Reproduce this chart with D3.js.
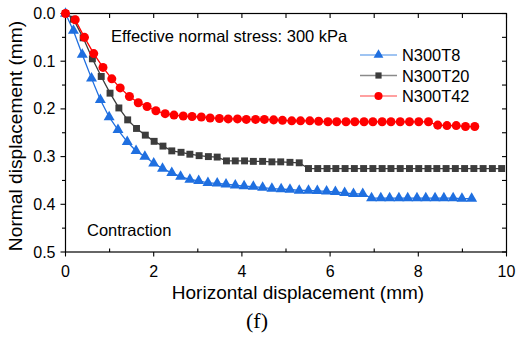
<!DOCTYPE html>
<html><head><meta charset="utf-8">
<script src="https://cdn.jsdelivr.net/npm/d3@7"></script>
<style>body{margin:0;background:#fff}svg{display:block}text{font-family:"Liberation Sans",Arial,sans-serif}</style>
</head><body><div id="c"></div>
<script>
// Data
const seriesNames = ["N300T8", "N300T20", "N300T42"];
const t8X = [0.00,0.18,0.38,0.59,0.79,0.99,1.19,1.40,1.60,1.80,2.00,2.20,2.41,2.61,2.82,3.02,3.23,3.44,3.64,3.85,4.05,4.26,4.47,4.68,4.89,5.09,5.30,5.51,5.71,5.92,6.12,6.33,6.53,6.74,6.94,7.15,7.35,7.56,7.76,7.97,8.17,8.38,8.58,8.79,8.99,9.21];
const t8Y = [0.000,0.036,0.086,0.136,0.181,0.217,0.244,0.269,0.288,0.300,0.314,0.325,0.334,0.342,0.348,0.351,0.355,0.356,0.358,0.360,0.362,0.363,0.365,0.367,0.368,0.369,0.371,0.371,0.372,0.373,0.374,0.376,0.378,0.378,0.387,0.387,0.387,0.387,0.387,0.387,0.387,0.387,0.387,0.387,0.388,0.388];
const t20X = [0.00,0.18,0.40,0.61,0.81,1.01,1.21,1.41,1.61,1.81,2.01,2.21,2.41,2.62,2.82,3.03,3.24,3.44,3.65,3.85,4.06,4.26,4.47,4.68,4.88,5.09,5.30,5.51,5.72,5.93,6.13,6.34,6.55,6.76,6.97,7.18,7.38,7.59,7.80,8.01,8.22,8.42,8.63,8.84,9.05,9.26,9.47,9.68,9.89];
const t20Y = [0.000,0.012,0.051,0.095,0.132,0.167,0.198,0.223,0.241,0.255,0.268,0.278,0.288,0.291,0.295,0.298,0.300,0.301,0.309,0.309,0.309,0.310,0.310,0.311,0.311,0.312,0.313,0.325,0.325,0.325,0.325,0.325,0.325,0.325,0.325,0.325,0.325,0.325,0.325,0.325,0.325,0.325,0.325,0.325,0.325,0.325,0.325,0.325,0.325];
const t42X = [0.00,0.22,0.43,0.64,0.85,1.05,1.24,1.45,1.65,1.85,2.05,2.26,2.46,2.67,2.87,3.08,3.28,3.49,3.69,3.90,4.10,4.31,4.51,4.72,4.92,5.13,5.33,5.54,5.74,5.95,6.15,6.36,6.56,6.77,6.97,7.18,7.38,7.59,7.80,8.01,8.23,8.44,8.65,8.86,9.07,9.28];
const t42Y = [0.000,0.013,0.050,0.084,0.113,0.137,0.156,0.174,0.187,0.195,0.204,0.210,0.213,0.215,0.216,0.217,0.219,0.220,0.221,0.221,0.222,0.222,0.222,0.223,0.224,0.225,0.225,0.225,0.226,0.227,0.227,0.227,0.227,0.227,0.227,0.227,0.227,0.227,0.227,0.227,0.227,0.234,0.235,0.235,0.237,0.237];
const xTicks = [0,2,4,6,8,10];
const yTicks = [0.0,0.1,0.2,0.3,0.4,0.5];
const xTitle = "Horizontal displacement (mm)";
const yTitle = "Normal displacement (mm)";
const annotation = "Effective normal stress: 300 kPa";
const note = "Contraction";
const panel = "(f)";

const W = 516, H = 338;
const svg = d3.select("#c").append("svg").attr("width", W).attr("height", H);
const x = d3.scaleLinear().domain([0,10]).range([65.5,506.5]);
const y = d3.scaleLinear().domain([0,0.5]).range([13.5,252]);

const colors = ["#1f6fe0", "#3c3c3c", "#ff0000"];
const legendLine = ["#7fb0ee", "#8a8a8a", "#ff8080"];
const symbols = [d3.symbolTriangle, d3.symbolSquare, d3.symbolCircle];
const sizes = [52, 48, 64];
const data = [
  t8X.map((v,i)=>[v,t8Y[i]]),
  t20X.map((v,i)=>[v,t20Y[i]]),
  t42X.map((v,i)=>[v,t42Y[i]])
];

// frame & ticks
const g = svg.append("g");
const ax = "#000";
g.append("rect").attr("x", x(0)).attr("y", y(0)).attr("width", x(10)-x(0)).attr("height", y(0.5)-y(0))
  .attr("fill","none").attr("stroke", ax).attr("stroke-width",1.2);
d3.range(0,11,1).forEach(v=>{
  const major = v%2===0;
  g.append("line").attr("x1",x(v)).attr("x2",x(v)).attr("y1",y(0.5)).attr("y2", major? y(0.5)+4.5 : y(0.5)-3.5).attr("stroke",ax).attr("stroke-width",1.1);
  g.append("line").attr("x1",x(v)).attr("x2",x(v)).attr("y1",y(0)).attr("y2",y(0)+4.5).attr("stroke",ax).attr("stroke-width",1.1);
});
d3.range(0,11,1).forEach(k=>{
  const v = k*0.05;
  const major = k%2===0;
  g.append("line").attr("y1",y(v)).attr("y2",y(v)).attr("x1",x(0)).attr("x2", major? x(0)-5 : x(0)-3.5).attr("stroke",ax).attr("stroke-width",1.1);
  g.append("line").attr("y1",y(v)).attr("y2",y(v)).attr("x1",x(10)).attr("x2",x(10)-4.5).attr("stroke",ax).attr("stroke-width",1.1);
});
xTicks.forEach(v=>{
  g.append("text").attr("x",x(v)).attr("y",277).attr("text-anchor","middle").attr("font-size",16).attr("fill","#000").text(v);
});
yTicks.forEach(v=>{
  g.append("text").attr("x",55.5).attr("y",y(v)+5.5).attr("text-anchor","end").attr("font-size",16).attr("fill","#000").text(v.toFixed(1));
});
svg.append("text").attr("x",298).attr("y",298.5).attr("text-anchor","middle").attr("font-size",19).text(xTitle);
svg.append("text").attr("transform","translate(22,136) rotate(-90)").attr("text-anchor","middle").attr("font-size",19.2).text(yTitle);
svg.append("text").attr("x",257).attr("y",328).attr("text-anchor","middle").attr("font-size",22).style("font-family","'Liberation Serif','Times New Roman',serif").text(panel);
svg.append("text").attr("x",111).attr("y",41.5).attr("font-size",16.5).text(annotation);
svg.append("text").attr("x",87).attr("y",236).attr("font-size",16.5).text(note);

// series
const line = d3.line().x(d=>x(d[0])).y(d=>y(d[1]));
data.forEach((d,i)=>{
  svg.append("path").datum(d).attr("d",line).attr("fill","none").attr("stroke",colors[i]).attr("stroke-width",1.3);
});
data.forEach((d,i)=>{
  svg.append("g").selectAll("path").data(d).join("path")
    .attr("transform",p=>`translate(${x(p[0])},${y(p[1])})`)
    .attr("d", d3.symbol().type(symbols[i]).size(sizes[i])())
    .attr("fill",colors[i]);
});

// legend
seriesNames.forEach((n,i)=>{
  const ly = 55 + i*20.5;
  svg.append("line").attr("x1",360).attr("x2",397).attr("y1",ly).attr("y2",ly).attr("stroke",legendLine[i]).attr("stroke-width",1.5);
  svg.append("path").attr("transform",`translate(378.5,${ly})`).attr("d",d3.symbol().type(symbols[i]).size(sizes[i]*0.8)()).attr("fill",colors[i]);
  svg.append("text").attr("x",402).attr("y",ly+6).attr("font-size",16.4).text(n);
});
</script></body></html>
